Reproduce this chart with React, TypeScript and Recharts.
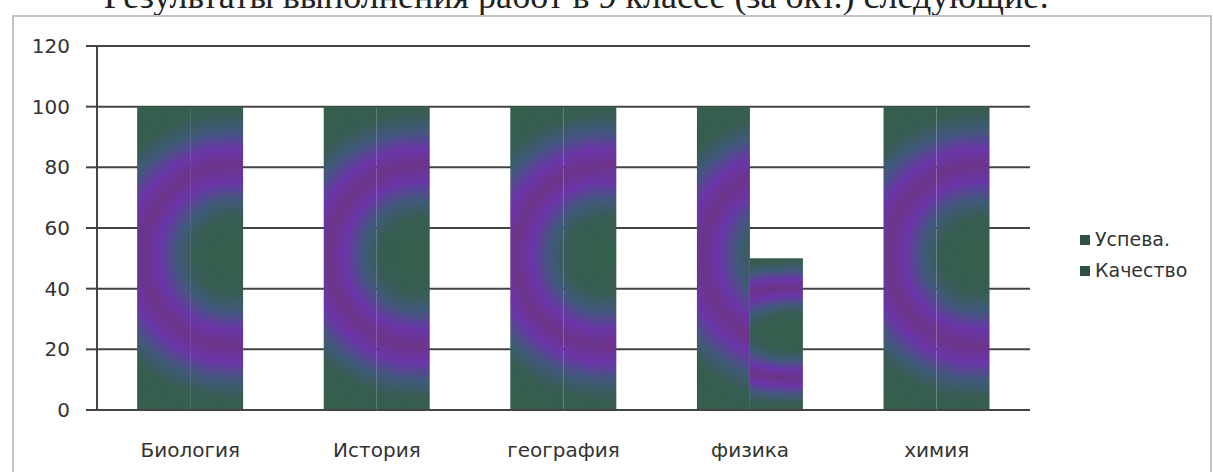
import React from 'react';
import { BarChart, Bar, XAxis, YAxis, CartesianGrid, Legend } from 'recharts';

const subjects = ['Биология', 'История', 'география', 'физика', 'химия'];
const uspeva = [100, 100, 100, 100, 100];
const kachestvo = [100, 100, 100, 50, 100];
const yTicks = [0, 20, 40, 60, 80, 100, 120];
const seriesNames = ['Успева.', 'Качество'];

const chartData = subjects.map((name, i) => ({
  name,
  'Успева.': uspeva[i],
  'Качество': kachestvo[i],
}));

const font = '"DejaVu Sans", Verdana, sans-serif';

// keep the rings roughly round on a tall bar: squash the gradient vertically in bbox space
const ringTransform = 'translate(0 0.5) scale(1 0.175) translate(0 -0.5)';

const Stops = () => (
  <>
    <stop offset="0" stopColor="#33604a" />
    <stop offset="0.42" stopColor="#375c52" />
    <stop offset="0.62" stopColor="#42597c" />
    <stop offset="0.82" stopColor="#6a35a8" />
    <stop offset="1" stopColor="#6c3488" />
  </>
);

const LegendBox = () => (
  <div style={{ fontFamily: font, fontSize: 19, color: '#333', lineHeight: '31px' }}>
    {seriesNames.map((n) => (
      <div key={n} style={{ display: 'flex', alignItems: 'center' }}>
        <span style={{ display: 'inline-block', width: 10, height: 10, background: '#2f5047', marginRight: 5 }} />
        {n}
      </div>
    ))}
  </div>
);

const App: React.FC = () => {
  return (
    <div style={{ position: 'absolute', left: 0, top: 0, width: 1213, height: 472, background: '#fff', overflow: 'hidden' }}>
      <div
        style={{
          position: 'absolute', left: -30, width: 1213, top: -25, textAlign: 'center', whiteSpace: 'nowrap',
          fontFamily: '"Liberation Serif", "Times New Roman", serif', fontSize: 36, color: '#222',
        }}
      >
        Результаты выполнения работ в 9 классе (за окт.) следующие:
      </div>
      <div style={{ position: 'absolute', left: 12, top: 15, width: 1196, height: 470, border: '2px solid #c4c4c4' }} />
      <div style={{ position: 'absolute', left: 0, top: 0 }}>
        <BarChart
          width={1213}
          height={472}
          data={chartData}
          margin={{ top: 46, right: 183, left: 0, bottom: 32 }}
          barCategoryGap="21.5%"
          barGap={0}
        >
          <defs>
            <radialGradient id="gLeft" cx="1.8" cy="0.45" r="1.7" spreadMethod="reflect" gradientTransform={ringTransform}>
              <Stops />
            </radialGradient>
            <radialGradient id="gRight" cx="0.8" cy="0.45" r="1.7" spreadMethod="reflect" gradientTransform={ringTransform}>
              <Stops />
            </radialGradient>
          </defs>
          <CartesianGrid vertical={false} stroke="#444" strokeWidth={2} />
          <XAxis
            dataKey="name"
            height={30}
            axisLine={{ stroke: '#444', strokeWidth: 2 }}
            tickLine={false}
            tick={{ fill: '#333', fontSize: 20, fontFamily: font }}
            tickMargin={27}
          />
          <YAxis
            width={97}
            domain={[0, 120]}
            ticks={yTicks}
            interval={0}
            axisLine={{ stroke: '#444', strokeWidth: 2 }}
            tickLine={{ stroke: '#444', strokeWidth: 2 }}
            tickSize={11}
            tick={{ fill: '#333', fontSize: 20, fontFamily: font }}
            tickMargin={16}
          />
          <Legend
            layout="vertical"
            align="center"
            verticalAlign="middle"
            content={<LegendBox />}
            wrapperStyle={{ left: 1080, top: 224, width: 130 }}
          />
          <Bar dataKey="Успева." fill="url(#gLeft)" isAnimationActive={false} />
          <Bar dataKey="Качество" fill="url(#gRight)" isAnimationActive={false} />
        </BarChart>
      </div>
    </div>
  );
};

export default App;
